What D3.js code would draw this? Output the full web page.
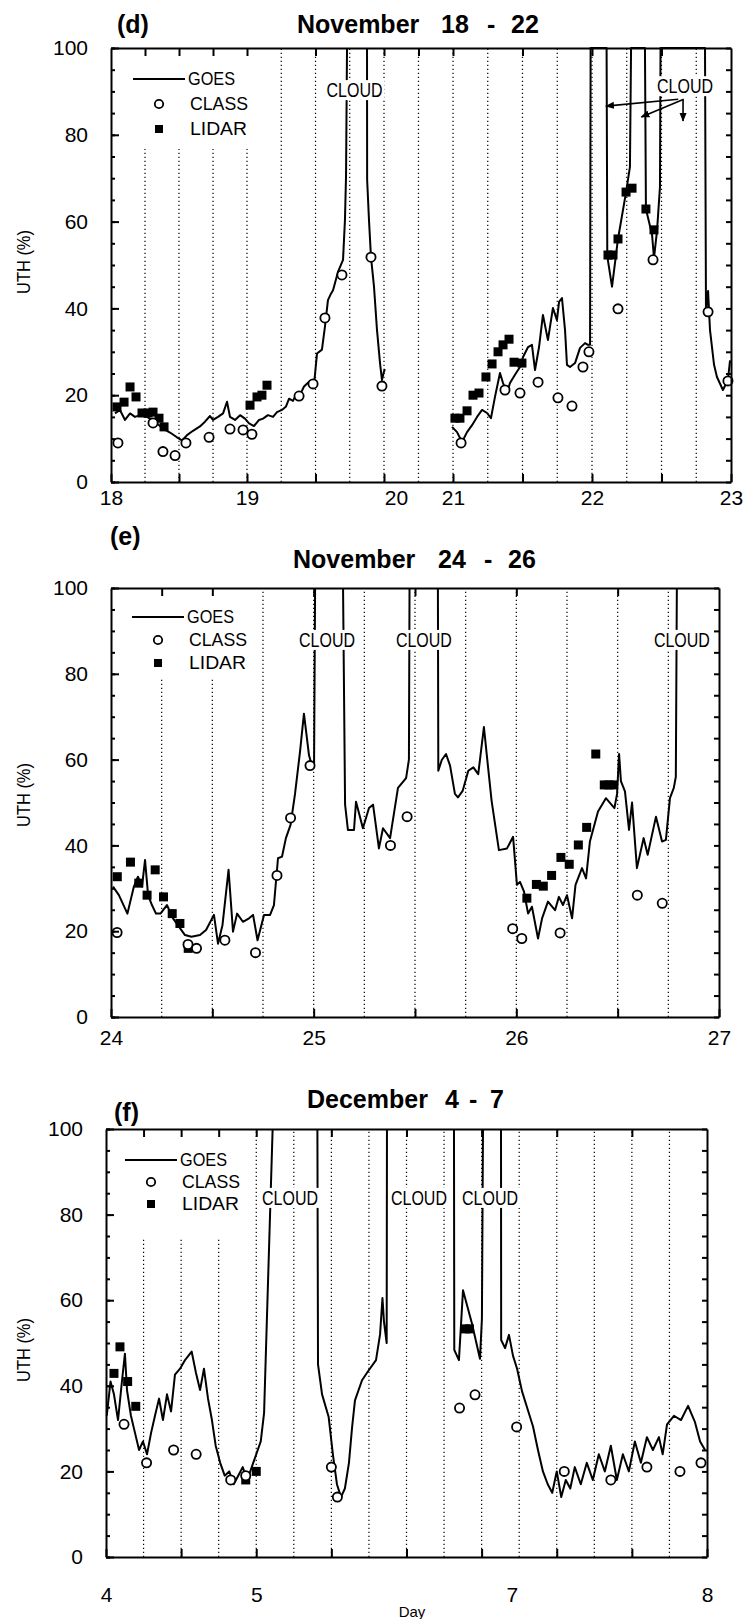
<!DOCTYPE html>
<html>
<head>
<meta charset="utf-8">
<script src="https://cdn.jsdelivr.net/npm/d3@7"></script>
<style>
  body { margin: 0; background: #fff; }
  svg { display: block; }
</style>
</head>
<body>
<svg id="fig" width="747" height="1619"></svg>
<script>
// ---------- panel (d) : November 18 - 22 ----------
const axisDaysD = [18, 19, 20, 21, 22, 23];
const dayLabelsD = [18, 19, 20, 21, 22, 23];
const majorTicksD = [18, 18.5, 19, 19.5, 20, 21, 21.5, 22, 22.5, 23];
const topTicksD = [18.25, 18.5, 18.75, 19, 19.5, 20, 20.5, 21, 21.5, 22, 22.5];
const gridD = [18.25, 18.5, 18.75, 19, 19.25, 19.5, 19.75, 20, 20.5, 21, 21.25, 21.5, 21.75, 22, 22.25, 22.5, 22.75];

const goesD = [
  [18.029, 15.8], [18.066, 16.6], [18.103, 14.3], [18.14, 15.8], [18.176, 15.0], [18.213, 15.4],
  [18.265, 15.0], [18.301, 14.3], [18.338, 13.5], [18.382, 12.3], [18.434, 11.4], [18.485, 10.3],
  [18.522, 9.6], [18.559, 10.8], [18.603, 11.8], [18.654, 12.8], [18.691, 13.9], [18.728, 15.2],
  [18.75, 14.3], [18.787, 15.0], [18.824, 15.8], [18.853, 18.5], [18.875, 15.0], [18.912, 14.3],
  [18.949, 15.4], [18.985, 14.6], [19.015, 13.5], [19.051, 12.9], [19.088, 14.3], [19.117, 14.6],
  [19.153, 15.4], [19.19, 15.0], [19.219, 16.1], [19.255, 16.6], [19.285, 17.4], [19.307, 19.2],
  [19.336, 18.7], [19.358, 20.2], [19.38, 19.6], [19.416, 22.0], [19.453, 23.1], [19.489, 22.4],
  [19.511, 29.6], [19.547, 30.5], [19.569, 35.8], [19.591, 41.9], [19.613, 43.4], [19.628, 44.2],
  [19.664, 48.4], [19.701, 51.2], [19.715, 60.4], [19.723, 70.7], [19.73, 100],
  null,
  [19.876, 100], [19.877, 69.6], [19.891, 60], [19.905, 51.8], [19.927, 45], [19.949, 35],
  [19.971, 27.4], [19.985, 23.5], [20.0, 25.5], [20.014, 26],
  null,
  [20.986, 12.7], [21.029, 11.5], [21.065, 9.2], [21.101, 11.5], [21.137, 13.1], [21.173, 15],
  [21.209, 16.6], [21.245, 15.9], [21.273, 14.7], [21.302, 19.6], [21.338, 25.1], [21.36, 22.8],
  [21.388, 20.5], [21.41, 22.8], [21.446, 24.7], [21.482, 26.5], [21.504, 28.8], [21.54, 31.1],
  [21.568, 31.6], [21.59, 25.8], [21.619, 31.1], [21.647, 38.5], [21.683, 32.7], [21.719, 40.1],
  [21.748, 37.3], [21.763, 41.5], [21.784, 42.4], [21.806, 35], [21.82, 27], [21.842, 26.5],
  [21.878, 27.4], [21.914, 30.9], [21.95, 32], [21.971, 31.6], [21.986, 31.6], [21.99, 100],
  [22.105, 100], [22.11, 52], [22.144, 45], [22.187, 56], [22.245, 66.8], [22.273, 72.6], [22.281, 100],
  [22.381, 100], [22.388, 62.9], [22.432, 57], [22.446, 51.6], [22.468, 58], [22.489, 68], [22.493, 100],
  [22.813, 100], [22.82, 39.2], [22.835, 44], [22.849, 35], [22.878, 27], [22.899, 24.2],
  [22.942, 21.2], [22.978, 23.5], [22.993, 28]
];
const classD = [
  [18.051, 9.0], [18.309, 13.6], [18.382, 7.0], [18.471, 6.1], [18.551, 9.0], [18.721, 10.3],
  [18.875, 12.2], [18.971, 12.0], [19.036, 11.0], [19.38, 19.8], [19.482, 22.6], [19.569, 37.8],
  [19.693, 47.7], [19.905, 51.8], [19.985, 22.1], [21.058, 9.0], [21.374, 21.2], [21.482, 20.5],
  [21.612, 23], [21.755, 19.4], [21.856, 17.5], [21.935, 26.5], [21.978, 30], [22.187, 39.9],
  [22.439, 51.2], [22.835, 39.2], [22.978, 23.3]
];
const lidarD = [
  [18.044, 17.3], [18.096, 18.4], [18.14, 21.9], [18.184, 19.6], [18.228, 15.9], [18.272, 15.9],
  [18.309, 16.1], [18.353, 14.7], [18.39, 12.7], [19.022, 17.7], [19.073, 19.6], [19.109, 20],
  [19.146, 22.3], [21.014, 14.7], [21.05, 14.7], [21.101, 16.4], [21.144, 20], [21.187, 20.5],
  [21.237, 24.2], [21.281, 27.2], [21.324, 30], [21.36, 31.6], [21.403, 32.9], [21.439, 27.6],
  [21.496, 27.4], [22.115, 52.3], [22.151, 52.3], [22.187, 56], [22.245, 66.8], [22.288, 67.7],
  [22.388, 62.9], [22.446, 58.1]
];
const cloudD = [[19.785, 90.3], [22.669, 91.2]];
const arrowsD = [
  [[22.62, 88.2], [22.10, 86.6]],
  [[22.66, 88.2], [22.355, 84.1]],
  [[22.655, 88.0], [22.655, 83.2]]
];

// ---------- panel (e) : November 24 - 26 ----------
const axisDaysE = [24, 27];
const dayLabelsE = [24, 25, 26, 27];
const majorTicksE = [24, 24.5, 25, 25.5, 26, 26.5, 27];
const topTicksE = [24.25, 24.5, 25, 25.5, 26, 26.5];
const gridE = [24.25, 24.5, 24.75, 25, 25.25, 25.5, 25.75, 26, 26.25, 26.5, 26.75];

const goesE = [
  [24.010, 30.4], [24.039, 28.4], [24.081, 24.1], [24.113, 30.4], [24.133, 32.7], [24.153, 30.4],
  [24.168, 36.6], [24.183, 28.4], [24.202, 26.1], [24.222, 24.1], [24.244, 24.1], [24.276, 26.1],
  [24.306, 23.0], [24.336, 21.0], [24.365, 19.1], [24.397, 18.7], [24.439, 19.1], [24.469, 20.3],
  [24.508, 23.8], [24.528, 17.1], [24.550, 21.4], [24.580, 34.3], [24.602, 19.9], [24.622, 24.1],
  [24.651, 22.2], [24.681, 23.0], [24.701, 23.8], [24.723, 17.9], [24.755, 23.8], [24.785, 23.8],
  [24.804, 26.1], [24.824, 37.0], [24.844, 37.4], [24.863, 41.7], [24.886, 44.8], [24.908, 52.0],
  [24.933, 62.0], [24.952, 70.7], [24.977, 61.0], [24.992, 58.5], [25.002, 59.0], [25.007, 100],
  null,
  [25.145, 100], [25.155, 49.5], [25.169, 43.6], [25.199, 43.6], [25.209, 50.2], [25.243, 44.0],
  [25.273, 48.7], [25.293, 49.5], [25.322, 39.3], [25.342, 44.0], [25.377, 41.7], [25.416, 53.4],
  [25.456, 55.7], [25.470, 60.0], [25.473, 100],
  null,
  [25.613, 100], [25.615, 57.4], [25.632, 59.9], [25.653, 61.3], [25.673, 58.6], [25.697, 52.0],
  [25.712, 51.2], [25.735, 52.7], [25.763, 57.4], [25.788, 58.2], [25.812, 56.6], [25.840, 67.6],
  [25.857, 59.8], [25.878, 50.4], [25.914, 38.9], [25.954, 39.3], [25.984, 42.0], [26.003, 30.8],
  [26.018, 31.5], [26.038, 29.2], [26.058, 24.1], [26.077, 25.7], [26.107, 18.3], [26.127, 23.0],
  [26.156, 26.9], [26.191, 24.9], [26.210, 28.0], [26.230, 26.1], [26.250, 28.4], [26.275, 23.0],
  [26.292, 30.8], [26.324, 34.7], [26.344, 32.3], [26.363, 40.9], [26.403, 47.9], [26.442, 51.0],
  [26.484, 48.7], [26.497, 52.0], [26.507, 61.3], [26.516, 55.0], [26.536, 52.6], [26.556, 43.6],
  [26.571, 50.0], [26.595, 34.7], [26.628, 41.7], [26.648, 37.8], [26.689, 46.7], [26.719, 40.9],
  [26.738, 41.3], [26.758, 51.0], [26.777, 53.4], [26.787, 56.0], [26.792, 100]
];
const classE = [
  [24.030, 19.7], [24.380, 16.9], [24.422, 16.0], [24.562, 17.9], [24.713, 15.0], [24.819, 33.0],
  [24.886, 46.4], [24.982, 58.6], [25.379, 40.0], [25.461, 46.7], [25.982, 20.6], [26.027, 18.3],
  [26.216, 19.6], [26.597, 28.4], [26.720, 26.5]
];
const lidarE = [
  [24.031, 32.7], [24.096, 36.1], [24.137, 31.2], [24.178, 28.4], [24.218, 34.3], [24.259, 28.0],
  [24.302, 24.1], [24.340, 21.8], [24.381, 16.0], [26.052, 27.7], [26.099, 30.9], [26.133, 30.5],
  [26.174, 33.0], [26.220, 37.2], [26.261, 35.6], [26.306, 40.1], [26.347, 44.2], [26.392, 61.3],
  [26.434, 54.1], [26.457, 54.1], [26.479, 54.1]
];
const cloudE = [[25.066, 87.9], [25.544, 87.9], [26.817, 87.9]];

// ---------- panel (f) : December 4 - 7 ----------
const axisDaysF = [4, 8];
const dayLabelsF = [4, 5, 7, 8];
const majorTicksF = [4, 4.5, 5, 5.5, 6, 6.5, 7, 7.5, 8];
const topTicksF = [4.25, 4.5, 4.75, 5, 5.5, 6, 6.5, 7, 7.5];
const gridF = [4.25, 4.5, 4.75, 5, 5.25, 5.5, 5.75, 6, 6.25, 6.5, 6.75, 7, 7.25, 7.5, 7.75];

const goesF = [
  [4.005, 33], [4.03, 41], [4.053, 38], [4.08, 32], [4.106, 41], [4.126, 47.5], [4.14, 38.9],
  [4.166, 33], [4.193, 29], [4.22, 25], [4.246, 27], [4.273, 24], [4.30, 29], [4.326, 33],
  [4.353, 37], [4.379, 32], [4.406, 38], [4.433, 34], [4.459, 42.6], [4.493, 44], [4.526, 46],
  [4.57, 48], [4.599, 43], [4.626, 39], [4.652, 44], [4.679, 37], [4.705, 32], [4.73, 26],
  [4.76, 22], [4.79, 19], [4.82, 20], [4.85, 17], [4.88, 19], [4.91, 21], [4.94, 18], [4.97, 21],
  [5.00, 24], [5.03, 27], [5.052, 33.6], [5.109, 100],
  null,
  [5.407, 100], [5.411, 45], [5.438, 38], [5.482, 32.7], [5.51, 24], [5.537, 17], [5.564, 14],
  [5.59, 16], [5.617, 22], [5.637, 30], [5.657, 36.6], [5.704, 41.3], [5.744, 43.4], [5.797, 46],
  [5.824, 52], [5.84, 60.5], [5.85, 55], [5.868, 50], [5.87, 100],
  null,
  [6.316, 100], [6.318, 48.4], [6.349, 46], [6.376, 62.3], [6.436, 54.5], [6.489, 46.3],
  [6.502, 55.8], [6.509, 100],
  null,
  [6.629, 100], [6.63, 50.7], [6.656, 48.8], [6.682, 51.9], [6.709, 47], [6.736, 44], [6.769, 38.7],
  [6.802, 35], [6.842, 30.5], [6.875, 25], [6.908, 20], [6.94, 17], [6.97, 15], [7.00, 20],
  [7.03, 14], [7.06, 18], [7.09, 16], [7.12, 21], [7.16, 17], [7.20, 22], [7.24, 18], [7.28, 24],
  [7.32, 20], [7.36, 26], [7.40, 18], [7.44, 24], [7.48, 20], [7.52, 27], [7.56, 22], [7.60, 28],
  [7.64, 25], [7.68, 28], [7.705, 24], [7.734, 31], [7.78, 33], [7.827, 32], [7.874, 35.3],
  [7.92, 31.5], [7.954, 27], [7.987, 25]
];
const classF = [
  [4.12, 31], [4.27, 22], [4.45, 25], [4.60, 24], [4.83, 18], [4.93, 19], [5.50, 21], [5.54, 14],
  [6.353, 34.8], [6.456, 37.9], [6.733, 30.4], [7.05, 20], [7.36, 18], [7.60, 21], [7.82, 20], [7.96, 22]
];
const lidarF = [
  [4.053, 42.9], [4.093, 49.1], [4.144, 41], [4.198, 35.2], [4.93, 18], [5.00, 20],
  [6.392, 53.3], [6.419, 53.3]
];
const cloudF = [[5.225, 83.9], [6.083, 83.9], [6.556, 83.9]];

// ---------- layout ----------
const FONT = "'Liberation Sans', Arial, Helvetica, sans-serif";
const svg = d3.select('#fig').attr('font-family', FONT);

const defs = svg.append('defs');
defs.append('marker')
  .attr('id', 'arrow')
  .attr('viewBox', '0 -5 10 10')
  .attr('refX', 9)
  .attr('refY', 0)
  .attr('markerWidth', 9)
  .attr('markerHeight', 9)
  .attr('markerUnits', 'userSpaceOnUse')
  .attr('orient', 'auto')
  .append('path')
  .attr('d', 'M0,-4 L10,0 L0,4 Z')
  .attr('fill', '#000');

const panels = [
  {
    letter: '(d)', letterPos: [117, 33],
    title: [['November', 297], ['18', 441], ['-', 487], ['22', 511]], titleY: 33,
    x: d3.scaleLinear().domain(axisDaysD).range([111, 247, 384, 453, 592, 731]),
    y: d3.scaleLinear().domain([0, 100]).range([482, 48]),
    labels: dayLabelsD, labelShift: {20: 12}, major: majorTicksD, top: topTicksD, grid: gridD,
    goes: goesD, cls: classD, lidar: lidarD, cloud: cloudD, arrows: arrowsD,
    labelPad: 8, legend: {x: 112, y: 49, w: 145, h: 100, lx: 133, ly: 79, gap: 25},
    uthY: 262
  },
  {
    letter: '(e)', letterPos: [110, 545],
    title: [['November', 293], ['24', 438], ['-', 484], ['26', 508]], titleY: 568,
    x: d3.scaleLinear().domain(axisDaysE).range([111, 719]),
    y: d3.scaleLinear().domain([0, 100]).range([1017, 588]),
    labels: dayLabelsE, labelShift: {}, major: majorTicksE, top: topTicksE, grid: gridE,
    goes: goesE, cls: classE, lidar: lidarE, cloud: cloudE, arrows: [],
    labelPad: 13, legend: {x: 112, y: 589, w: 145, h: 88, lx: 132, ly: 617, gap: 23},
    uthY: 795
  },
  {
    letter: '(f)', letterPos: [114, 1121],
    title: [['December', 307], ['4', 445], ['-', 469], ['7', 490]], titleY: 1108,
    x: d3.scaleLinear().domain(axisDaysF).range([106, 707]),
    y: d3.scaleLinear().domain([0, 100]).range([1557, 1129]),
    labels: dayLabelsF, labelShift: {7: -45}, major: majorTicksF, top: topTicksF, grid: gridF,
    goes: goesF, cls: classF, lidar: lidarF, cloud: cloudF, arrows: [],
    labelPad: 30, legend: {x: 107, y: 1130, w: 128, h: 108, lx: 125, ly: 1160, gap: 22},
    uthY: 1350
  }
];

panels.forEach(p => {
  const g = svg.append('g');
  const [x0, x1] = [p.x.range()[0], p.x.range()[p.x.range().length - 1]];
  const [yb, yt] = p.y.range();

  // dotted grid
  g.append('g')
    .selectAll('line')
    .data(p.grid)
    .join('line')
    .attr('x1', d => p.x(d)).attr('x2', d => p.x(d))
    .attr('y1', yb).attr('y2', yt)
    .attr('stroke', '#000')
    .attr('stroke-width', 1.2)
    .attr('stroke-dasharray', '1.3,2.7');

  // legend background hides the grid
  g.append('rect')
    .attr('x', p.legend.x).attr('y', p.legend.y)
    .attr('width', p.legend.w).attr('height', p.legend.h)
    .attr('fill', '#fff');

  // GOES line
  const line = d3.line()
    .defined(d => d !== null)
    .x(d => p.x(d[0]))
    .y(d => p.y(d[1]));
  g.append('path')
    .datum(p.goes)
    .attr('d', line)
    .attr('fill', 'none')
    .attr('stroke', '#000')
    .attr('stroke-width', 2)
    .attr('stroke-linejoin', 'round');

  // LIDAR squares
  g.append('g')
    .selectAll('rect')
    .data(p.lidar)
    .join('rect')
    .attr('x', d => p.x(d[0]) - 4.5)
    .attr('y', d => p.y(d[1]) - 4.5)
    .attr('width', 9).attr('height', 9)
    .attr('fill', '#000');

  // CLASS circles
  g.append('g')
    .selectAll('circle')
    .data(p.cls)
    .join('circle')
    .attr('cx', d => p.x(d[0]))
    .attr('cy', d => p.y(d[1]))
    .attr('r', 4.6)
    .attr('fill', '#fff')
    .attr('stroke', '#000')
    .attr('stroke-width', 1.8);

  // CLOUD labels
  const cl = g.append('g')
    .selectAll('g')
    .data(p.cloud)
    .join('g')
    .attr('transform', d => `translate(${p.x(d[0])},${p.y(d[1])})`);
  cl.append('rect')
    .attr('x', -30).attr('y', -10).attr('width', 60).attr('height', 20)
    .attr('fill', '#fff');
  cl.append('text')
    .attr('text-anchor', 'middle')
    .attr('dy', '0.36em')
    .attr('font-size', 20)
    .attr('textLength', 56)
    .attr('lengthAdjust', 'spacingAndGlyphs')
    .text('CLOUD');

  g.append('g')
    .selectAll('line')
    .data(p.arrows)
    .join('line')
    .attr('x1', d => p.x(d[0][0])).attr('y1', d => p.y(d[0][1]))
    .attr('x2', d => p.x(d[1][0])).attr('y2', d => p.y(d[1][1]))
    .attr('stroke', '#000')
    .attr('stroke-width', 1.6)
    .attr('marker-end', 'url(#arrow)');

  // axes
  const labelSet = new Set(p.labels);
  g.append('g')
    .attr('transform', `translate(0,${yb})`)
    .call(d3.axisBottom(p.x).tickValues(p.major).tickSize(-8).tickSizeOuter(0).tickPadding(p.labelPad)
      .tickFormat(d => labelSet.has(d) ? d : ''))
    .call(a => a.selectAll('.tick text').attr('dx', d => p.labelShift[d] || 0));
  g.append('g')
    .attr('transform', `translate(0,${yt})`)
    .call(d3.axisTop(p.x).tickValues(p.top).tickSize(-8).tickSizeOuter(0).tickFormat(''));
  g.append('g')
    .attr('transform', `translate(${x0},0)`)
    .call(d3.axisLeft(p.y).tickValues(d3.range(0, 101, 5)).tickSize(-4).tickSizeOuter(0).tickFormat(''));
  g.append('g')
    .attr('transform', `translate(${x0},0)`)
    .call(d3.axisLeft(p.y).tickValues([0, 20, 40, 60, 80, 100]).tickSize(-8).tickSizeOuter(0).tickPadding(23))
    .call(a => a.select('.domain').remove());
  g.append('g')
    .attr('transform', `translate(${x1},0)`)
    .call(d3.axisRight(p.y).tickValues(d3.range(0, 101, 5)).tickSize(-5).tickSizeOuter(0).tickFormat(''));

  g.selectAll('.domain, .tick line').attr('stroke-width', 2);
  g.selectAll('.tick text').attr('font-size', 21).attr('font-family', FONT).attr('fill', '#000');

  // legend
  const L = p.legend;
  g.append('line')
    .attr('x1', L.lx).attr('x2', L.lx + 52).attr('y1', L.ly).attr('y2', L.ly)
    .attr('stroke', '#000').attr('stroke-width', 2);
  g.append('circle')
    .attr('cx', L.lx + 26).attr('cy', L.ly + L.gap).attr('r', 4.2)
    .attr('fill', '#fff').attr('stroke', '#000').attr('stroke-width', 1.8);
  g.append('rect')
    .attr('x', L.lx + 22).attr('y', L.ly + 2 * L.gap - 4).attr('width', 8).attr('height', 8)
    .attr('fill', '#000');
  [['GOES', 0, 47], ['CLASS', 1, 58], ['LIDAR', 2, 57]].forEach(([t, i, w]) => {
    g.append('text')
      .attr('x', L.lx + 55 + (i ? 2 : 0)).attr('y', L.ly + i * L.gap)
      .attr('dy', '0.36em')
      .attr('font-size', 18)
      .attr('textLength', w)
      .attr('lengthAdjust', 'spacingAndGlyphs')
      .text(t);
  });

  // titles
  g.append('text')
    .attr('x', p.letterPos[0]).attr('y', p.letterPos[1])
    .attr('font-size', 25).attr('font-weight', 'bold')
    .text(p.letter);
  p.title.forEach(([t, xx]) => {
    g.append('text')
      .attr('x', xx).attr('y', p.titleY)
      .attr('font-size', 25).attr('font-weight', 'bold')
      .text(t);
  });

  g.append('text')
    .attr('transform', `translate(30,${p.uthY}) rotate(-90)`)
    .attr('text-anchor', 'middle')
    .attr('font-size', 19)
    .attr('textLength', 64)
    .attr('lengthAdjust', 'spacingAndGlyphs')
    .text('UTH (%)');
});

svg.append('text')
  .attr('x', 412).attr('y', 1617)
  .attr('text-anchor', 'middle')
  .attr('font-size', 15)
  .text('Day');
</script>
</body>
</html>
